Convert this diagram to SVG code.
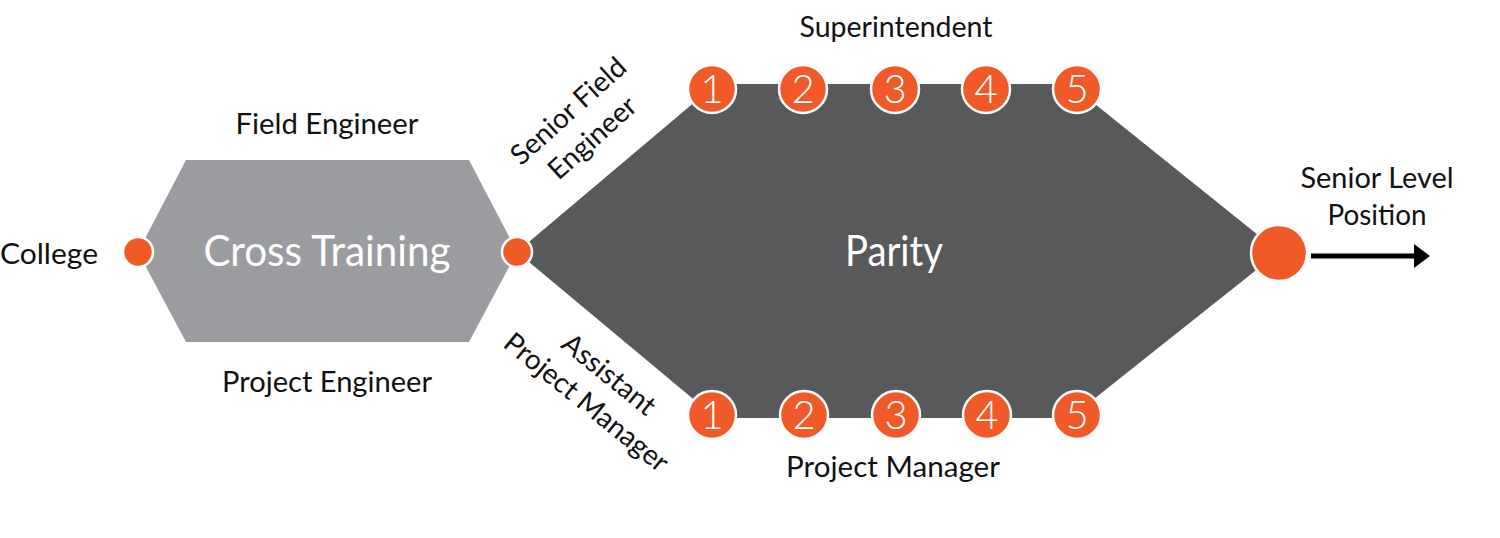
<svg xmlns="http://www.w3.org/2000/svg" width="1500" height="538" viewBox="0 0 1500 538">
<style>
.lbl{font-family:Lato,"Liberation Sans",sans-serif;font-size:28px;fill:#111;}
.big{font-family:Lato,"Liberation Sans",sans-serif;font-size:43px;fill:#fff;font-weight:400;}
.dot{fill:#f05a28;stroke:#fff;stroke-width:2.5;}
.num{font-family:Lato,"Liberation Sans",sans-serif;font-size:40px;fill:#fff;text-anchor:middle;font-weight:300;}
</style>
<defs>
<marker id="ah" viewBox="0 0 16 24" refX="2" refY="12" markerWidth="16" markerHeight="24" markerUnits="userSpaceOnUse" orient="auto">
<path d="M0,0 L16,12 L0,24 Z" fill="#000"/>
</marker>
</defs>
<rect width="1500" height="538" fill="#fff"/>

<g id="cross-training">
<polygon points="186,160 469,160 517,252 469,342 186,342 138,252" fill="#9b9ca0"/>
<text class="big" x="327" y="266" text-anchor="middle" textLength="247" lengthAdjust="spacingAndGlyphs">Cross Training</text>
</g>

<g id="parity">
<polygon points="517,252 716,84 1070,84 1279,252 1070,418 716,418" fill="#58595b"/>
<text class="big" x="894" y="266" text-anchor="middle" textLength="98" lengthAdjust="spacingAndGlyphs">Parity</text>
</g>

<g id="college">
<text class="lbl" x="0" y="264" textLength="98" lengthAdjust="spacingAndGlyphs">College</text>
<circle class="dot" cx="138" cy="252" r="15"/>
</g>

<g id="field-engineer">
<text class="lbl" x="327" y="134" text-anchor="middle" textLength="183" lengthAdjust="spacingAndGlyphs">Field Engineer</text>
</g>
<g id="project-engineer">
<text class="lbl" x="327" y="392" text-anchor="middle" textLength="210" lengthAdjust="spacingAndGlyphs">Project Engineer</text>
</g>

<g id="junction">
<circle class="dot" cx="517" cy="252" r="15"/>
</g>

<g id="senior-field-engineer">
<text class="lbl" transform="translate(580,124) rotate(-42)" text-anchor="middle"><tspan x="0" y="-8">Senior Field</tspan><tspan x="0" y="28">Engineer</tspan></text>
</g>
<g id="assistant-project-manager">
<text class="lbl" transform="translate(598,388) rotate(39)" text-anchor="middle"><tspan x="0" y="-8">Assistant</tspan><tspan x="0" y="28">Project Manager</tspan></text>
</g>

<g id="superintendent">
<text class="lbl" x="896" y="37" text-anchor="middle" textLength="193" lengthAdjust="spacingAndGlyphs">Superintendent</text>
<circle class="dot" cx="712" cy="89" r="24"/><text class="num" x="712" y="103">1</text>
<circle class="dot" cx="803" cy="89" r="24"/><text class="num" x="803" y="103">2</text>
<circle class="dot" cx="895" cy="89" r="24"/><text class="num" x="895" y="103">3</text>
<circle class="dot" cx="986" cy="89" r="24"/><text class="num" x="986" y="103">4</text>
<circle class="dot" cx="1077" cy="89" r="24"/><text class="num" x="1077" y="103">5</text>
</g>

<g id="project-manager">
<text class="lbl" x="893" y="477" text-anchor="middle" textLength="214" lengthAdjust="spacingAndGlyphs">Project Manager</text>
<circle class="dot" cx="712" cy="415" r="24"/><text class="num" x="712" y="429">1</text>
<circle class="dot" cx="804" cy="415" r="24"/><text class="num" x="804" y="429">2</text>
<circle class="dot" cx="896" cy="415" r="24"/><text class="num" x="896" y="429">3</text>
<circle class="dot" cx="987" cy="415" r="24"/><text class="num" x="987" y="429">4</text>
<circle class="dot" cx="1077" cy="415" r="24"/><text class="num" x="1077" y="429">5</text>
</g>

<g id="senior-level-position">
<circle class="dot" cx="1279" cy="253" r="28"/>
<text class="lbl" x="1377" y="188" text-anchor="middle" textLength="153" lengthAdjust="spacingAndGlyphs">Senior Level</text>
<text class="lbl" x="1377" y="225" text-anchor="middle" textLength="99" lengthAdjust="spacingAndGlyphs">Position</text>
</g>

<g id="connectors">
<line x1="1311" y1="256" x2="1416" y2="256" stroke="#000" stroke-width="5" marker-end="url(#ah)"/>
</g>
</svg>
